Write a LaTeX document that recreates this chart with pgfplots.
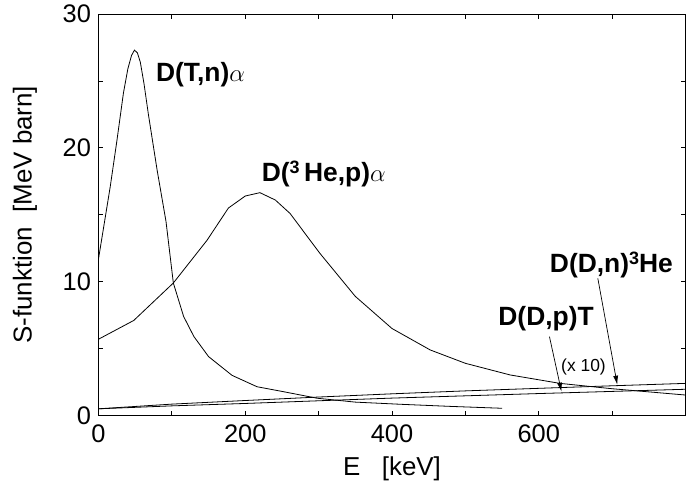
\documentclass[border=0pt]{standalone}
\usepackage{fontspec}
\setmainfont{Liberation Sans}
\usepackage{pgfplots}
\usepackage{pgfplotstable}
\pgfplotsset{compat=1.18}
\usetikzlibrary{arrows.meta}

\pgfplotstableread{
E S
0 11.7
16 17.1
25 20.5
34 24.1
40 25.9
45 26.9
49 27.3
53 27.1
57 26.4
62 24.8
68 22.5
80 18.3
92 14.5
102 9.9
116 7.4
130 5.9
150 4.4
182 3.0
216 2.15
252 1.78
298 1.29
350 1.0
411 0.84
480 0.68
550 0.54
}\dtn

\pgfplotstableread{
E S
0 5.7
48 7.1
102 9.9
148 13.1
177 15.5
200 16.4
220 16.65
241 16.1
261 15.1
302 12.1
350 8.9
400 6.5
452 4.9
500 3.9
561 3.03
629 2.4
700 2.0
800 1.53
}\dhe

\pgfplotstableread{
E S
0 0.5
100 0.85
200 1.12
300 1.38
400 1.62
500 1.84
600 2.03
700 2.22
800 2.4
}\ddn

\pgfplotstableread{
E S
0 0.5
100 0.72
200 0.9
300 1.1
400 1.3
500 1.47
600 1.64
700 1.8
800 1.96
}\ddp

\begin{document}
\begin{tikzpicture}
\begin{axis}[
  scale only axis, width=587bp, height=401.5bp,
  xmin=0, xmax=800, ymin=0, ymax=30,
  xtick={0,200,400,600}, minor xtick={100,300,500,700},
  ytick={0,10,20,30}, minor ytick={5,15,25},
  tick align=inside, major tick length=4.5bp, minor tick length=4.5bp,
  axis line style={line width=1bp},
  every tick/.style={black, line width=0.8bp},
  tick label style={font=\fontsize{25.5}{30}\selectfont},
  xticklabel style={yshift=-6bp},
  yticklabel style={xshift=-4bp},
  /pgf/number format/assume math mode=true,
  label style={font=\fontsize{26}{31}\selectfont},
  xlabel={E\ \ \ [keV]},
  ylabel={S-funktion\ \ [MeV barn]},
  xlabel style={at={([yshift=-53bp]axis description cs:0.5,0)}, anchor=center},
  ylabel style={at={([xshift=-73.5bp]axis description cs:0,0.5)}, anchor=center},
]
\addplot[black, line width=0.8bp, no markers] table {\dtn};
\addplot[black, line width=0.8bp, no markers] table {\dhe};
\addplot[black, line width=0.8bp, no markers] table {\ddn};
\addplot[black, line width=0.8bp, no markers] table {\ddp};

\node[font=\fontsize{26.5}{30}\selectfont\bfseries] at (axis cs:139,25.45) {D(T,n)$\alpha$};
\node[font=\fontsize{26.5}{30}\selectfont\bfseries] at (axis cs:307,18.05) {D(\raisebox{0.6ex}{\fontsize{18}{20}\selectfont 3}\,He,p)$\alpha$};
\node[font=\fontsize{26.5}{30}\selectfont\bfseries] at (axis cs:699,11.25) {D(D,n)\raisebox{0.6ex}{\fontsize{18}{20}\selectfont 3}He};
\node[font=\fontsize{26.5}{30}\selectfont\bfseries] at (axis cs:610,7.2) {D(D,p)T};
\node[font=\fontsize{17.5}{20}\selectfont] at (axis cs:661,3.6) {(x 10)};
\draw[line width=0.7bp, -{Latex[length=9bp,width=5bp]}] (axis cs:614.6,5.89) -- (axis cs:631,1.78);
\draw[line width=0.7bp, -{Latex[length=9bp,width=5bp]}] (axis cs:680.5,10.25) -- (axis cs:707,2.3);
\end{axis}
\pgfresetboundingbox
\path ([shift={(-98.5bp,-83.5bp)}]current axis.south west) rectangle ([shift={(3.5bp,14bp)}]current axis.north east);
\end{tikzpicture}
\end{document}
